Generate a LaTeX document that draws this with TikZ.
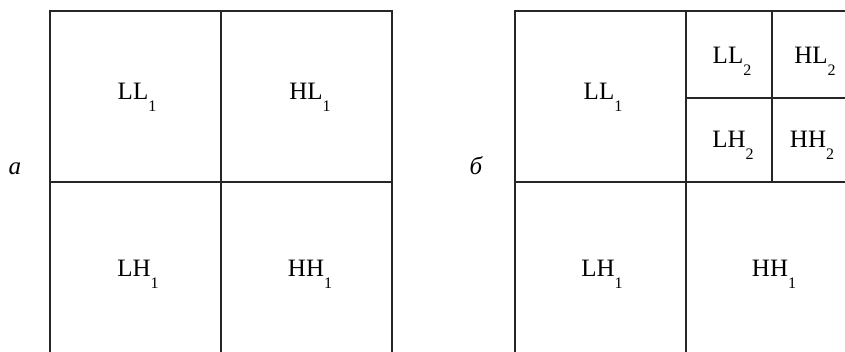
\documentclass[tikz,border=0pt]{standalone}
\usepackage{fontspec}
\setmainfont{Liberation Serif}
\newcommand{\sbx}[1]{\raisebox{-12pt}{\fontsize{16}{16}\selectfont #1}}
\begin{document}
\begin{tikzpicture}[x=1pt,y=-1pt,
  grid/.style={line width=1.6pt,draw=black!85},
  lbl/.style={anchor=base,inner sep=0pt,font=\fontsize{25}{28}\selectfont},
  tag/.style={anchor=base,inner sep=0pt,font=\fontsize{25}{28}\selectfont\itshape}]
\clip (0,0) rectangle (845,352);
\fill[white] (0,0) rectangle (845,352);
% left panel
\draw[grid] (50,370) -- (50,11) -- (392,11) -- (392,370);
\draw[grid] (221,11) -- (221,370);
\draw[grid] (50,182) -- (392,182);
\node[tag] (ta) at (15,175) {а};
\node[lbl] (a1) at (137,100) {LL\sbx{1}};
\node[lbl] (a2) at (310,100) {HL\sbx{1}};
\node[lbl] (a3) at (138,277) {LH\sbx{1}};
\node[lbl] (a4) at (310,277) {HH\sbx{1}};
% right panel
\draw[grid] (515,370) -- (515,11) -- (860,11);
\draw[grid] (686,11) -- (686,370);
\draw[grid] (515,182) -- (860,182);
\draw[grid] (772,11) -- (772,182);
\draw[grid] (686,98) -- (860,98);
\node[tag] (tb) at (476,175) {б};
\node[lbl] (b1) at (603,100) {LL\sbx{1}};
\node[lbl] (b2) at (732,64) {LL\sbx{2}};
\node[lbl] (b3) at (815,64) {HL\sbx{2}};
\node[lbl] (b4) at (733,148) {LH\sbx{2}};
\node[lbl] (b5) at (812,148) {HH\sbx{2}};
\node[lbl] (b6) at (602,277) {LH\sbx{1}};
\node[lbl] (b7) at (774,277) {HH\sbx{1}};
\end{tikzpicture}
\end{document}
